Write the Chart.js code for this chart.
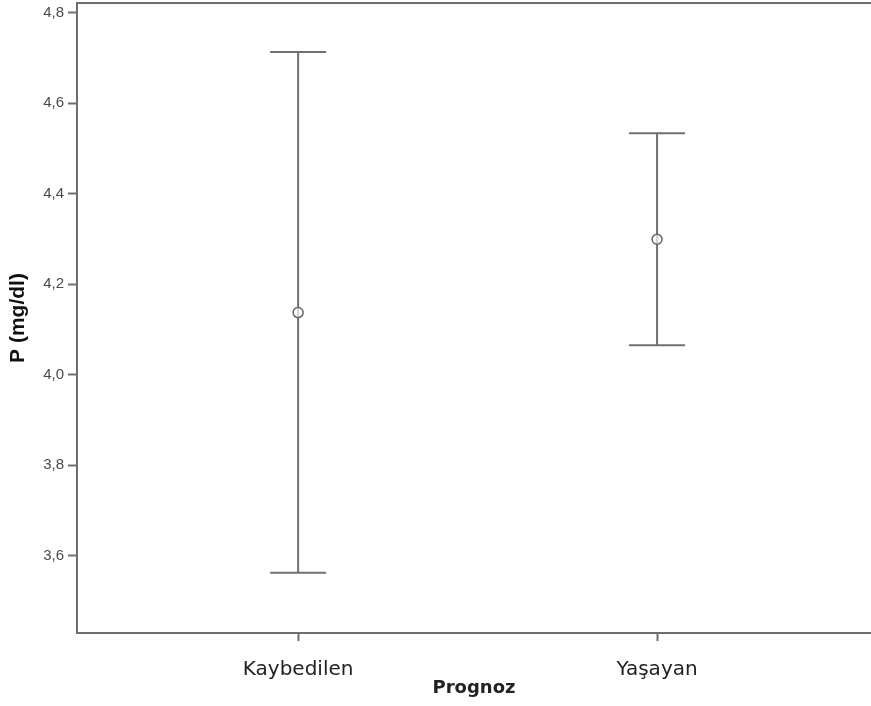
<!DOCTYPE html>
<html>
<head>
<meta charset="utf-8">
<title>P (mg/dl) - Prognoz</title>
<script src="https://cdn.jsdelivr.net/npm/chart.js@4/dist/chart.umd.min.js"></script>
<style>
	html, body { margin: 0; padding: 0; background: #fff; }
	#chart { display: block; }
</style>
</head>
<body>
<canvas id="chart" width="871" height="706"></canvas>
<script>
// Mean P with error bars per prognosis group

const categories = ["Kaybedilen", "Yaşayan"];
const means = [4.137, 4.299];
const lower = [3.562, 4.065];
const upper = [4.713, 4.533];
const yTicks = [3.6, 3.8, 4.0, 4.2, 4.4, 4.6, 4.8];

const axisColor = "#6e6e6e";
const barColor = "#707070";

const fmtComma = (v) => v.toFixed(1).replace(".", ",");

// whiskers + caps, drawn under the mean circles
const errorBars = {
	id: "errorBars",
	beforeDatasetsDraw(chart) {
		const { ctx, scales } = chart;
		const capHalf = 28;
		ctx.save();
		ctx.strokeStyle = barColor;
		ctx.lineWidth = 2;
		categories.forEach((cat, i) => {
			const x = scales.x.getPixelForValue(i + 1);
			const yTop = scales.y.getPixelForValue(upper[i]);
			const yBot = scales.y.getPixelForValue(lower[i]);
			ctx.beginPath();
			ctx.moveTo(x, yTop);
			ctx.lineTo(x, yBot);
			ctx.moveTo(x - capHalf, yTop);
			ctx.lineTo(x + capHalf, yTop);
			ctx.moveTo(x - capHalf, yBot);
			ctx.lineTo(x + capHalf, yBot);
			ctx.stroke();
		});
		ctx.restore();
	},
};

// top edge of the frame (no right edge)
const topFrame = {
	id: "topFrame",
	afterDraw(chart) {
		const { ctx, chartArea } = chart;
		ctx.save();
		ctx.strokeStyle = axisColor;
		ctx.lineWidth = 2;
		ctx.beginPath();
		ctx.moveTo(chartArea.left - 1, chartArea.top);
		ctx.lineTo(chart.width, chartArea.top);
		ctx.stroke();
		ctx.restore();
	},
};

const ctx = document.getElementById("chart").getContext("2d");
const chart = new Chart(ctx, {
	type: "scatter",
	data: {
		datasets: [
			{
				label: "P (mg/dl)",
				data: means.map((m, i) => ({ x: i + 1, y: m })),
				pointStyle: "circle",
				pointRadius: 5,
				pointHoverRadius: 5,
				pointBorderWidth: 1.5,
				pointBorderColor: "#666",
				pointBackgroundColor: "rgba(255,255,255,0.7)",
			},
		],
	},
	options: {
		responsive: false,
		animation: false,
		layout: {
			autoPadding: false,
			padding: { top: 3, right: 0, left: 0, bottom: 0 },
		},
		plugins: {
			legend: { display: false },
			tooltip: { enabled: false },
		},
		scales: {
			x: {
				type: "linear",
				min: 0.384,
				max: 2.596,
				afterBuildTicks: (scale) => {
					scale.ticks = categories.map((c, i) => ({ value: i + 1 }));
				},
				afterFit: (scale) => {
					scale.height = 73;
					scale.paddingLeft = 0;
					scale.paddingRight = 0;
				},
				ticks: {
					callback: (v) => categories[v - 1],
					font: { family: "'DejaVu Sans'", size: 20 },
					color: "#222",
					padding: 17,
					maxRotation: 0,
				},
				grid: {
					drawOnChartArea: false,
					drawTicks: true,
					tickLength: 8,
					tickWidth: 2,
					tickColor: axisColor,
				},
				border: { color: axisColor, width: 2 },
				title: {
					display: true,
					text: "Prognoz",
					font: { family: "'DejaVu Sans'", size: 18, weight: "bold" },
					color: "#222",
					padding: { top: 0, bottom: 7 },
				},
			},
			y: {
				min: 3.429,
				max: 4.821,
				afterBuildTicks: (scale) => {
					scale.ticks = yTicks.map((v) => ({ value: v }));
				},
				afterFit: (scale) => {
					scale.width = 77;
					scale.paddingTop = 0;
					scale.paddingBottom = 0;
				},
				ticks: {
					callback: (v) => fmtComma(v),
					font: { family: "'Liberation Sans', Arial", size: 15 },
					color: "#4a4a4a",
					padding: 4,
				},
				grid: {
					drawOnChartArea: false,
					drawTicks: true,
					tickLength: 9,
					tickWidth: 2,
					tickColor: axisColor,
				},
				border: { color: axisColor, width: 2 },
				title: {
					display: true,
					text: "P (mg/dl)",
					font: { family: "'Liberation Sans', Arial", size: 21, weight: "bold" },
					color: "#111",
					padding: { top: 6, bottom: 0 },
				},
			},
		},
	},
	plugins: [errorBars, topFrame],
});
</script>
</body>
</html>
